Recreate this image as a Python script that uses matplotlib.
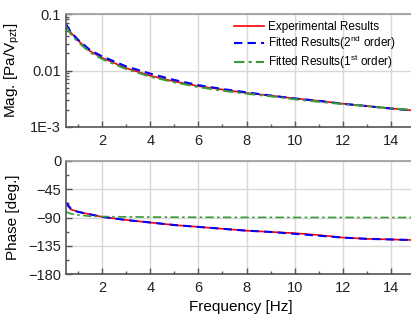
import matplotlib.pyplot as plt
from matplotlib.ticker import FixedLocator, NullFormatter, LogLocator

plt.rcParams['font.family'] = ['Liberation Sans', 'DejaVu Sans']
plt.rcParams['mathtext.fontset'] = 'custom'
plt.rcParams['mathtext.rm'] = 'Liberation Sans'
plt.rcParams['mathtext.default'] = 'rm'

freq = [0.5, 0.7, 1.0, 1.5, 2.0, 3.0, 4.0, 5.0, 6.0, 7.0, 8.0, 9.0, 10.0, 11.0, 12.0, 13.0, 14.0, 15.0]

mag_exp = [0.064, 0.047, 0.034, 0.022, 0.0168, 0.0110, 0.0081, 0.0064, 0.0053, 0.0046, 0.0040, 0.0036, 0.0032, 0.0029, 0.00258, 0.00235, 0.00213, 0.00195]
mag_fit2 = [0.066, 0.048, 0.035, 0.023, 0.0178, 0.0118, 0.0088, 0.0068, 0.0055, 0.0047, 0.0041, 0.0036, 0.0032, 0.0029, 0.00258, 0.00234, 0.00212, 0.00194]
mag_fit1 = [0.060, 0.044, 0.032, 0.021, 0.0160, 0.0106, 0.0078, 0.0062, 0.0051, 0.0044, 0.0039, 0.0035, 0.0031, 0.0028, 0.00255, 0.00234, 0.00214, 0.00198]

ph_exp = [-68, -77, -81, -85, -89, -94, -98, -102, -105, -108, -111, -113, -115, -118, -122, -124, -125, -126]
ph_fit2 = [-66, -76, -81, -85, -89, -94, -98, -102, -105, -108, -111, -113, -116, -119, -122, -124, -125, -126]
ph_fit1 = [-81, -84, -86, -88, -88.5, -89, -89.3, -89.5, -89.6, -89.7, -89.8, -89.8, -89.9, -89.9, -89.9, -90, -90, -90]

spine_c = '#555555'
grid_c = '#d8d8d8'

fig = plt.figure(figsize=(4.11, 3.23), dpi=100)
ax1 = fig.add_axes([66 / 411, 1 - 127 / 323, 1 - 66 / 411 + 0.01, 113 / 323])
ax2 = fig.add_axes([66 / 411, 1 - 274 / 323, 1 - 66 / 411 + 0.01, 113 / 323])

ax1.plot(freq, mag_exp, color='red', lw=1.2, label='Experimental Results')
ax1.plot(freq, mag_fit2, color='blue', lw=1.5, ls=(0, (4, 2.5)), label='Fitted Results(2$^{nd}$ order)')
ax1.plot(freq, mag_fit1, color='#3a9a3a', lw=1.5, ls=(0, (5, 2, 1.5, 2)), label='Fitted Results(1$^{st}$ order)')
ax1.set_yscale('log')
ax1.set_ylim(1e-3, 0.1)
ax1.set_yticks([1e-3, 1e-2, 1e-1])
ax1.set_yticklabels(['1E-3', '0.01', '0.1'])
ax1.yaxis.set_minor_locator(LogLocator(base=10, subs=range(2, 10)))
ax1.yaxis.set_minor_formatter(NullFormatter())
ax1.set_ylabel('Mag. [Pa/V$_{pzt}$]', fontsize=11, labelpad=6)
leg = ax1.legend(loc='upper right', frameon=False, fontsize=8.5, handlelength=2.6,
                 handletextpad=0.3, labelspacing=0.05, bbox_to_anchor=(0.965, 1.0),
                 borderaxespad=0.2)

ax2.plot(freq, ph_exp, color='red', lw=1.2)
ax2.plot(freq, ph_fit2, color='blue', lw=1.5, ls=(0, (4, 2.5)))
ax2.plot(freq, ph_fit1, color='#3a9a3a', lw=1.2, ls=(0, (5, 2, 1.5, 2)))
ax2.set_ylim(-180, 0)
ax2.set_yticks([0, -45, -90, -135, -180])
ax2.yaxis.set_minor_locator(FixedLocator([-22.5, -67.5, -112.5, -157.5]))
ax2.set_ylabel('Phase [deg.]', fontsize=11, labelpad=6)
ax2.set_xlabel('Frequency [Hz]', fontsize=11)

for ax in (ax1, ax2):
    ax.set_xlim(0.5, 15)
    ax.set_xticks([2, 4, 6, 8, 10, 12, 14])
    ax.xaxis.set_minor_locator(FixedLocator([1, 3, 5, 7, 9, 11, 13, 15]))
    ax.grid(True, which='major', color=grid_c, lw=1)
    ax.set_axisbelow(True)
    ax.tick_params(which='both', direction='in', labelsize=10.5, colors=spine_c,
                   labelcolor='#222222', width=1)
    ax.tick_params(which='major', length=4)
    ax.tick_params(which='minor', length=2)
    ax.tick_params(axis='x', pad=5)
    for s in ('left', 'bottom'):
        ax.spines[s].set_color(spine_c)
        ax.spines[s].set_linewidth(1.2)
    ax.spines['top'].set_color('#999999')
    ax.spines['top'].set_linewidth(1.2)
    ax.spines['right'].set_visible(False)

fig.savefig('out.png', dpi=100)
